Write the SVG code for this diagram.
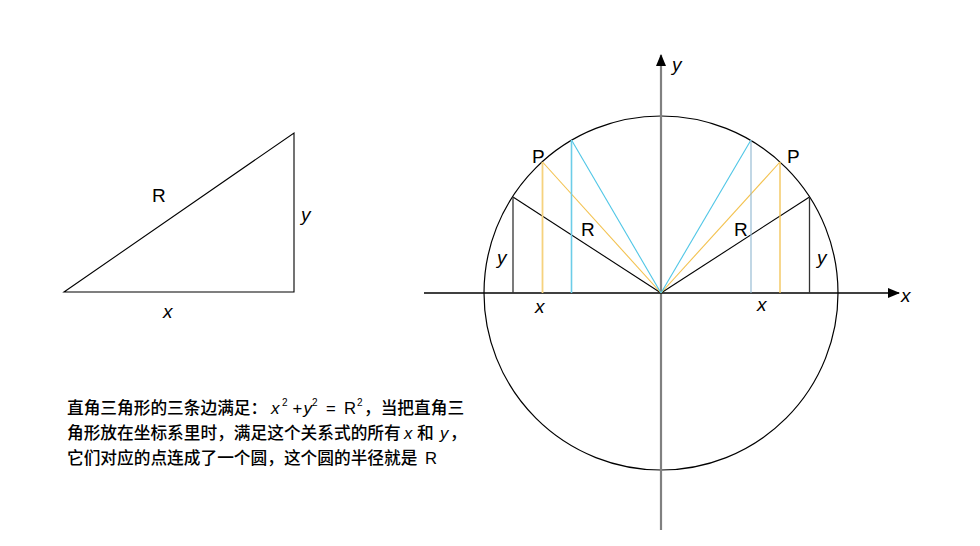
<svg xmlns="http://www.w3.org/2000/svg" width="980" height="546" viewBox="0 0 980 546">
<defs>
<style>
.lbl{font-family:"Liberation Sans","Noto Sans CJK SC",sans-serif;font-size:19px;fill:#000}
.it{font-style:italic}
.cn{font-family:"Liberation Sans","Noto Sans CJK SC",sans-serif;font-size:16.7px;font-weight:500;fill:#000}
.sup{font-size:10px}
.blk{stroke:#000;stroke-width:1.1;fill:none}
.drk{stroke:#333;stroke-width:1.3;fill:none}
.yel{stroke:#F3C24F;stroke-width:1.1;fill:none}
.yelv{stroke:#F6D27E;stroke-width:1.8;fill:none}
.blu{stroke:#4FC6E6;stroke-width:1.1;fill:none}
.bluv{stroke:#6CCDE8;stroke-width:1.6;fill:none}
</style>
<marker id="ah" markerWidth="12" markerHeight="10" refX="11" refY="5" orient="auto" markerUnits="userSpaceOnUse">
<path d="M0,0 L12,5 L0,10 Z" fill="#000"/>
</marker>
</defs>
<rect width="980" height="546" fill="#fff"/>

<g id="triangle">
<polygon points="64,292 294,133 294,292" class="blk"/>
<text class="lbl" x="152" y="202">R</text>
<text class="lbl it" x="301" y="221">y</text>
<text class="lbl it" x="163" y="318">x</text>
</g>

<g id="circle">
<circle cx="661" cy="293" r="177" stroke="#000" stroke-width="1.2" fill="none"/>
</g>

<g id="connectors">
<line x1="661" y1="530" x2="661" y2="55" stroke="#808080" stroke-width="2.2" marker-end="url(#ah)"/>
<line x1="424" y1="293" x2="899" y2="293" stroke="#000" stroke-width="1.5" marker-end="url(#ah)"/>
<line x1="661" y1="293" x2="513" y2="197" class="blk"/>
<line x1="513" y1="197" x2="513" y2="293" class="drk"/>
<line x1="661" y1="293" x2="542.5" y2="162" class="yel"/>
<line x1="542.5" y1="162" x2="542.5" y2="293" class="yelv"/>
<line x1="661" y1="293" x2="571.5" y2="140" class="blu"/>
<line x1="571.5" y1="140" x2="571.5" y2="293" class="bluv"/>
<line x1="661" y1="293" x2="809.5" y2="197" class="blk"/>
<line x1="809.5" y1="197" x2="809.5" y2="293" class="drk"/>
<line x1="661" y1="293" x2="780" y2="162" class="yel"/>
<line x1="780" y1="162" x2="780" y2="293" stroke="#F3C24F" stroke-width="1.3"/>
<line x1="661" y1="293" x2="751" y2="140" class="blu"/>
<line x1="751" y1="140" x2="751" y2="293" stroke="#8FB6CF" stroke-width="1.1"/>
</g>

<g id="labels">
<text class="lbl" x="532" y="163">P</text>
<text class="lbl" x="787" y="163">P</text>
<text class="lbl" x="581" y="236">R</text>
<text class="lbl" x="734" y="236">R</text>
<text class="lbl it" x="497" y="264">y</text>
<text class="lbl it" x="817" y="264">y</text>
<text class="lbl it" x="535" y="313">x</text>
<text class="lbl it" x="757" y="311">x</text>
<text class="lbl it" x="672" y="71">y</text>
<text class="lbl it" x="901" y="302">x</text>
</g>

<g id="caption">
<text class="cn" y="414"><tspan x="67">直角三角形的三条边满足：</tspan><tspan x="271" class="it" font-size="17">x</tspan><tspan x="282" y="406" class="sup">2</tspan><tspan x="292.5" y="414">+</tspan><tspan x="303.5" class="it" font-size="17">y</tspan><tspan x="312" y="406" class="sup">2</tspan><tspan x="326" y="414">=</tspan><tspan x="344">R</tspan><tspan x="357" y="406" class="sup">2</tspan><tspan x="364" y="414">，当把直角三</tspan></text>
<text class="cn" y="439"><tspan x="67">角形放在坐标系里时，满足这个关系式的所有</tspan><tspan x="404" class="it">x</tspan><tspan x="417">和</tspan><tspan x="440" class="it">y</tspan><tspan x="450">，</tspan></text>
<text class="cn" y="464"><tspan x="67">它们对应的点连成了一个圆，这个圆的半径就是</tspan><tspan x="425">R</tspan></text>
</g>
</svg>
